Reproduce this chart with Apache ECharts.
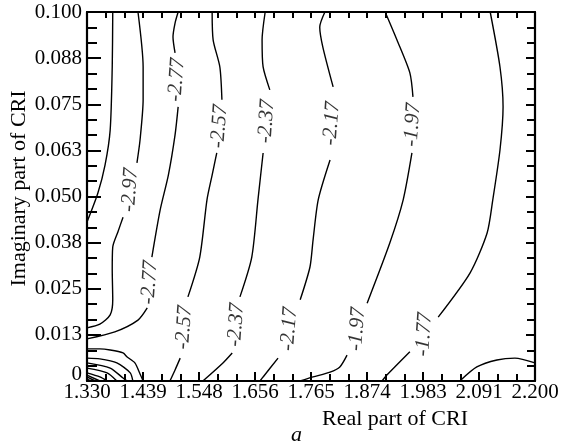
<!DOCTYPE html>
<html>
<head>
<meta charset="utf-8">
<script src="https://cdn.jsdelivr.net/npm/echarts@6/dist/echarts.min.js"></script>
<style>
  html, body { margin: 0; padding: 0; background: #fff; }
  #chart { width: 565px; height: 448px; }
</style>
</head>
<body>
<div id="chart"></div>
<script>
// Axis ranges and tick labels
const xMin = 1.330, xMax = 2.200, xStep = 0.10875;
const yMin = 0, yMax = 0.100, yStep = 0.0125;
const xTickLabels = ['1.330', '1.439', '1.548', '1.656', '1.765', '1.874', '1.983', '2.091', '2.200'];
const yTickLabels = ['0', '0.013', '0.025', '0.038', '0.050', '0.063', '0.075', '0.088', '0.100'];

// Contour curves as [real, imaginary] points. A curve is a list of segments;
// the level label is written in each gap between consecutive segments.
const curve317 = [
  [[1.380, 0.1000], [1.379, 0.0851], [1.375, 0.0680], [1.365, 0.0585], [1.351, 0.0509], [1.330, 0.0431]]
];
const curve297 = [
  [[1.429, 0.1000], [1.439, 0.0851], [1.439, 0.0762], [1.433, 0.0653], [1.427, 0.0591]],
  [[1.400, 0.0444], [1.390, 0.0404], [1.380, 0.0363], [1.379, 0.0301], [1.380, 0.0220], [1.375, 0.0179], [1.355, 0.0154], [1.330, 0.0144]]
];
const curve277 = [
  [[1.507, 0.1000], [1.501, 0.0970], [1.497, 0.0932], [1.501, 0.0889]],
  [[1.507, 0.0743], [1.501, 0.0667], [1.488, 0.0558], [1.472, 0.0463], [1.456, 0.0336]],
  [[1.447, 0.0198], [1.429, 0.0165], [1.384, 0.0133], [1.330, 0.0114]]
];
const curve257 = [
  [[1.573, 0.1000], [1.575, 0.0924], [1.588, 0.0851], [1.592, 0.0762]],
  [[1.582, 0.0618], [1.573, 0.0558], [1.563, 0.0491], [1.549, 0.0336], [1.526, 0.0228]],
  [[1.511, 0.0062], [1.501, 0.0030], [1.491, 0]]
];
const curve237 = [
  [[1.676, 0.1000], [1.670, 0.0924], [1.672, 0.0851], [1.685, 0.0789]],
  [[1.672, 0.0618], [1.662, 0.0491], [1.650, 0.0336], [1.627, 0.0228]],
  [[1.612, 0.0076], [1.594, 0.0049], [1.555, 0]]
];
const curve217 = [
  [[1.792, 0.1000], [1.782, 0.0959], [1.788, 0.0905], [1.808, 0.0797]],
  [[1.802, 0.0599], [1.779, 0.0491], [1.769, 0.0382], [1.763, 0.0309], [1.744, 0.0220]],
  [[1.701, 0.0062], [1.672, 0.0011], [1.666, 0]]
];
const curve197 = [
  [[1.909, 0.1000], [1.932, 0.0924], [1.957, 0.0835], [1.963, 0.0770]],
  [[1.961, 0.0618], [1.944, 0.0491], [1.918, 0.0374], [1.874, 0.0211]],
  [[1.835, 0.0070], [1.821, 0.0038], [1.802, 0.0024], [1.769, 0.0011], [1.744, 0]]
];
const curve177 = [
  [[2.113, 0.1000], [2.132, 0.0851], [2.138, 0.0743], [2.132, 0.0626], [2.118, 0.0491], [2.107, 0.0401], [2.074, 0.0293], [2.012, 0.0173]],
  [[1.957, 0.0079], [1.909, 0.0011], [1.903, 0]]
];
const curve157 = [
  [[2.054, 0], [2.087, 0.0038], [2.126, 0.0057], [2.161, 0.0062], [2.200, 0.0049]]
];
// closed-in levels around the low corner at (1.330, 0)
const corner277 = [[[1.330, 0.0087], [1.355, 0.0087], [1.375, 0.0084], [1.400, 0.0076], [1.408, 0.0065], [1.423, 0.0049], [1.433, 0.0019], [1.439, 0]]];
const corner297 = [[[1.330, 0.0062], [1.355, 0.0060], [1.388, 0.0049], [1.414, 0.0022], [1.419, 0]]];
const corner317 = [[[1.330, 0.0049], [1.375, 0.0035], [1.400, 0.0008], [1.408, 0]]];
const corner337 = [[[1.330, 0.0035], [1.369, 0.0022], [1.388, 0]]];
const corner357 = [[[1.330, 0.0022], [1.355, 0.0011], [1.369, 0]]];
const corner377 = [[[1.330, 0.0016], [1.355, 0]]];
const corner397 = [[[1.330, 0.0011], [1.346, 0]]];
const corner417 = [[[1.330, 0.0005], [1.338, 0]]];

const curves = [
  [-3.17, curve317], [-2.97, curve297], [-2.77, curve277], [-2.57, curve257],
  [-2.37, curve237], [-2.17, curve217], [-1.97, curve197], [-1.77, curve177],
  [-1.57, curve157],
  [-2.77, corner277], [-2.97, corner297], [-3.17, corner317], [-3.37, corner337],
  [-3.57, corner357], [-3.77, corner377], [-3.97, corner397], [-4.17, corner417]
];

const FONT = '"Liberation Serif", "Times New Roman", serif';

const series = [];
const labelData = [];
curves.forEach(([level, segs]) => {
  segs.forEach(seg => {
    series.push({
      type: 'line',
      data: seg,
      xAxisIndex: 0,
      yAxisIndex: 0,
      showSymbol: false,
      symbol: 'none',
      smooth: 0.25,
      silent: true,
      lineStyle: { color: '#000', width: 1.4 }
    });
  });
  for (let i = 0; i < segs.length - 1; i++) {
    const a = segs[i][segs[i].length - 1];
    const b = segs[i + 1][0];
    labelData.push({ value: [(a[0] + b[0]) / 2, (a[1] + b[1]) / 2], name: level.toFixed(2) });
  }
});

series.push({
  type: 'scatter',
  data: labelData,
  xAxisIndex: 0,
  yAxisIndex: 0,
  symbolSize: 1,
  itemStyle: { color: 'rgba(0,0,0,0)' },
  silent: true,
  label: {
    show: true,
    position: 'inside',
    formatter: p => p.name,
    rotate: 86,
    color: '#000',
    fontFamily: FONT,
    fontStyle: 'italic',
    fontSize: 21
  }
});

const tickStyle = { color: '#000', width: 2 };
const axisLine = { show: true, onZero: false, lineStyle: { color: '#000', width: 2.2 } };

const chart = echarts.init(document.getElementById('chart'), null, { renderer: 'canvas' });
chart.setOption({
  animation: false,
  backgroundColor: '#fff',
  grid: { left: 87, right: 30, top: 12, bottom: 67, containLabel: false, outerBoundsMode: 'none' },
  xAxis: [
    {
      type: 'value', position: 'bottom', min: xMin, max: xMax, interval: xStep,
      axisLine,
      axisTick: { show: true, inside: true, length: 9, lineStyle: tickStyle },
      minorTick: { show: true, splitNumber: 3, length: 7, lineStyle: tickStyle },
      splitLine: { show: false },
      axisLabel: {
        margin: 1, color: '#000', fontFamily: FONT, fontSize: 21,
        formatter: v => xTickLabels[Math.round((v - xMin) / xStep)]
      },
      name: 'Real part of CRI',
      nameLocation: 'middle',
      nameGap: 27,
      nameMoveOverlap: false,
      nameTextStyle: { color: '#000', fontFamily: FONT, fontSize: 22, padding: [0, 0, 0, 168] }
    },
    {
      type: 'value', position: 'top', min: xMin, max: xMax, interval: xStep,
      axisLine,
      axisTick: { show: true, inside: true, length: 6, lineStyle: tickStyle },
      minorTick: { show: true, splitNumber: 3, length: 6, lineStyle: tickStyle },
      splitLine: { show: false },
      axisLabel: { show: false }
    }
  ],
  yAxis: [
    {
      type: 'value', position: 'left', min: yMin, max: yMax, interval: yStep,
      axisLine,
      axisTick: { show: true, inside: true, length: 14, lineStyle: tickStyle },
      minorTick: { show: true, splitNumber: 3, length: 10, lineStyle: tickStyle },
      splitLine: { show: false },
      axisLabel: {
        margin: 5, color: '#000', fontFamily: FONT, fontSize: 21,
        formatter: v => {
          const t = yTickLabels[Math.round((v - yMin) / yStep)];
          return v === 0 ? '{z|' + t + '}' : t;
        },
        rich: { z: { fontFamily: FONT, fontSize: 21, color: '#000', padding: [0, 0, 14, 0] } }
      },
      name: 'Imaginary part of CRI',
      nameLocation: 'middle',
      nameGap: 57,
      nameMoveOverlap: false,
      nameTextStyle: { color: '#000', fontFamily: FONT, fontSize: 22, padding: [0, 0, 0, 16] }
    },
    {
      type: 'value', position: 'right', min: yMin, max: yMax, interval: yStep,
      axisLine,
      axisTick: { show: true, inside: true, length: 9, lineStyle: tickStyle },
      minorTick: { show: true, splitNumber: 3, length: 8, lineStyle: tickStyle },
      splitLine: { show: false },
      axisLabel: { show: false }
    }
  ],
  graphic: [
    {
      type: 'text', left: 291, top: 424,
      style: { text: 'a', fill: '#000', font: 'italic 22px ' + FONT }
    }
  ],
  series
});
</script>
</body>
</html>
